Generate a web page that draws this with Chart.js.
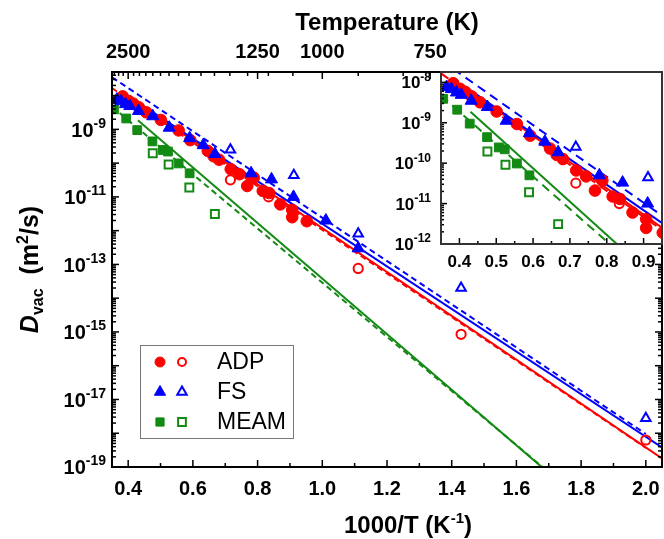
<!DOCTYPE html>
<html>
<head>
<meta charset="utf-8">
<script src="https://cdn.jsdelivr.net/npm/chart.js@4.4.1/dist/chart.umd.min.js"></script>
<style>
  body { margin: 0; background: #fff; overflow: hidden; }
  #wrap { position: relative; width: 664px; height: 539px; }
  #main { position: absolute; left: 0; top: 0; }
  #inset { position: absolute; left: 380px; top: 60px; }
</style>
</head>
<body>
<div id="wrap">
  <canvas id="main" width="664" height="539"></canvas>
  <canvas id="inset" width="284" height="220"></canvas>
</div>
<script>
// ===== Data (x = 1000/T, y = D_vac in m^2/s) =====
const seriesNames = ["ADP", "FS", "MEAM"];

const adpX = [0.383, 0.402, 0.416, 0.433, 0.456, 0.501, 0.556, 0.592, 0.646, 0.664, 0.681, 0.717, 0.744, 0.768, 0.788, 0.816, 0.836, 0.870, 0.907, 0.907, 0.952];
const adpY = [9.5e-9, 6.9e-9, 5.8e-9, 4.5e-9, 3.2e-9, 1.9e-9, 9.3e-10, 4.8e-10, 2.3e-10, 1.6e-10, 1.26e-10, 6.6e-11, 4.7e-11, 2.1e-11, 3.7e-11, 1.5e-11, 1.3e-11, 6.0e-12, 4.1e-12, 2.5e-12, 1.9e-12];
const adpOpenX = [0.716, 0.834, 1.111, 1.429, 2.0];
const adpOpenY = [3.2e-11, 1.0e-11, 7.6e-14, 8.5e-16, 6.3e-19];

const fsX = [0.365, 0.378, 0.392, 0.405, 0.432, 0.476, 0.527, 0.590, 0.632, 0.668, 0.780, 0.843, 0.911, 1.011, 1.111];
const fsY = [7.6e-9, 6.8e-9, 5.6e-9, 4.9e-9, 3.5e-9, 2.45e-9, 1.12e-9, 5.5e-10, 3.4e-10, 1.86e-10, 5.0e-11, 3.3e-11, 1.0e-11, 2.0e-12, 3.0e-13];
const fsOpenX = [0.716, 0.912, 1.111, 1.429, 2.0];
const fsOpenY = [2.5e-10, 4.4e-11, 8.1e-13, 2.0e-14, 2.8e-18];

const meamX = [0.356, 0.394, 0.428, 0.475, 0.507, 0.523, 0.556, 0.590];
const meamY = [3.9e-9, 2.1e-9, 9.5e-10, 4.4e-10, 2.45e-10, 2.2e-10, 9.8e-11, 5.0e-11];
const meamOpenX = [0.476, 0.525, 0.589, 0.668];
const meamOpenY = [1.95e-10, 9.1e-11, 1.9e-11, 3.1e-12];

// fitted Arrhenius lines (solid and dashed), end points
const adpFitX = [0.43, 2.05];   const adpFitY = [6.0e-9, 1.8e-19];
const adpFit2X = [0.35, 2.0];   const adpFit2Y = [1.66e-8, 3.7e-19];
const fsFitX = [0.43, 2.05];    const fsFitY = [6.3e-9, 3.8e-19];
const fsFit2X = [0.35, 2.0];    const fsFit2Y = [3.5e-8, 9.5e-19];
const meamFitX = [0.43, 1.7];   const meamFitY = [1.86e-9, 6.6e-20];
const meamFit2X = [0.35, 1.7];  const meamFit2Y = [4.7e-9, 7.0e-20];

// ===== Ticks =====
const xMajor = [0.4, 0.6, 0.8, 1.0, 1.2, 1.4, 1.6, 1.8, 2.0];
const xMinor = [0.5, 0.7, 0.9, 1.1, 1.3, 1.5, 1.7, 1.9];
const yLabelExp = [-19, -17, -15, -13, -11, -9];
const topMajorT = [2500, 1250, 1000, 750];
const topMinorT = [2800, 2700, 2600, 2400, 2300, 2200, 2100, 2000, 1900, 1800, 1700, 1600, 1500, 1400, 1300, 1200, 1100, 900, 800];
const insetXMajor = [0.4, 0.5, 0.6, 0.7, 0.8, 0.9];
const insetXMinor = [0.45, 0.55, 0.65, 0.75, 0.85];
const insetYLabelExp = [-12, -11, -10, -9, -8];

const RED = "#ff0000", BLUE = "#0000ff", GREEN = "#138a13";
const FONT = "'Liberation Sans', Arial, sans-serif";

// ===== Helpers =====
function pts(xs, ys) { return xs.map((x, i) => ({ x: x, y: ys[i] })); }

function pointSet(xs, ys, color, style, r, filled) {
  return {
    data: pts(xs, ys), showLine: false,
    pointStyle: style, pointRadius: r,
    pointBackgroundColor: filled ? color : "rgba(0,0,0,0)",
    pointBorderColor: color, pointBorderWidth: filled ? 1 : 2
  };
}

function lineSet(xs, ys, color, dash) {
  return {
    data: pts(xs, ys), showLine: true, borderColor: color, borderWidth: 2,
    borderDash: dash, pointRadius: 0, fill: false
  };
}

function makeSets(dash) {
  return [
    pointSet(fsX, fsY, BLUE, "triangle", 7, true),
    pointSet(fsOpenX, fsOpenY, BLUE, "triangle", 5.5, false),
    pointSet(adpX, adpY, RED, "circle", 5.8, true),
    pointSet(adpOpenX, adpOpenY, RED, "circle", 4.6, false),
    pointSet(meamX, meamY, GREEN, "rect", 6.2, true),
    pointSet(meamOpenX, meamOpenY, GREEN, "rect", 5.6, false),
    lineSet(fsFitX, fsFitY, BLUE, []),
    lineSet(fsFit2X, fsFit2Y, BLUE, dash),
    lineSet(adpFitX, adpFitY, RED, []),
    lineSet(adpFit2X, adpFit2Y, RED, dash),
    lineSet(meamFitX, meamFitY, GREEN, []),
    lineSet(meamFit2X, meamFit2Y, GREEN, dash)
  ];
}

function seg(ctx, x1, y1, x2, y2) {
  ctx.beginPath(); ctx.moveTo(x1, y1); ctx.lineTo(x2, y2); ctx.stroke();
}

function logTicks(scale) {
  const out = [];
  const e0 = Math.floor(Math.log10(scale.min)), e1 = Math.ceil(Math.log10(scale.max));
  for (let e = e0; e <= e1; e++) {
    for (let m = 1; m <= 9; m++) {
      const v = m * Math.pow(10, e);
      if (v >= scale.min * 0.999 && v <= scale.max * 1.001) out.push({ v: v, major: m === 1, e: e });
    }
  }
  return out;
}

// "10" with superscript, y = middle of the base text
function powLabel(ctx, exp, x, y, size, supSize, align) {
  const base = "10", sup = String(exp);
  ctx.font = "bold " + size + "px " + FONT;
  const wb = ctx.measureText(base).width;
  ctx.font = "bold " + supSize + "px " + FONT;
  const ws = ctx.measureText(sup).width;
  const x0 = align === "right" ? x - wb - ws : x - (wb + ws) / 2;
  const baseline = y + size * 0.36;
  ctx.textAlign = "left"; ctx.textBaseline = "alphabetic";
  ctx.font = "bold " + size + "px " + FONT;
  ctx.fillText(base, x0, baseline);
  ctx.font = "bold " + supSize + "px " + FONT;
  ctx.fillText(sup, x0 + wb, baseline - size * 0.45);
}

// pieces of mixed text on one baseline, centered at cx
function richText(ctx, pieces, cx, baseline) {
  let w = 0;
  pieces.forEach(p => { ctx.font = p.f; p.w = ctx.measureText(p.t).width; w += p.w; });
  let x = cx - w / 2;
  ctx.textAlign = "left"; ctx.textBaseline = "alphabetic";
  pieces.forEach(p => { ctx.font = p.f; ctx.fillText(p.t, x, baseline + (p.dy || 0)); x += p.w; });
}

// ===== Main chart decorations =====
const mainDecor = {
  id: "mainDecor",
  afterDatasetsDraw(chart) {
    const ctx = chart.ctx, a = chart.chartArea;
    const xs = chart.scales.x, ys = chart.scales.y;
    ctx.save();
    ctx.strokeStyle = "#000"; ctx.fillStyle = "#000";

    // bottom axis
    ctx.lineWidth = 1.5;
    xMinor.forEach(v => { const p = xs.getPixelForValue(v); seg(ctx, p, a.bottom, p, a.bottom - 4); });
    ctx.font = "bold 20px " + FONT; ctx.textAlign = "center"; ctx.textBaseline = "middle";
    xMajor.forEach(v => {
      const p = xs.getPixelForValue(v);
      seg(ctx, p, a.bottom, p, a.bottom - 7);
      ctx.fillText(v.toFixed(1), p, 489);
    });

    // top axis (temperature)
    topMinorT.forEach(T => { const p = xs.getPixelForValue(1000 / T); seg(ctx, p, a.top, p, a.top + 4); });
    ctx.font = "bold 20px " + FONT; ctx.textAlign = "center"; ctx.textBaseline = "middle";
    topMajorT.forEach(T => {
      const p = xs.getPixelForValue(1000 / T);
      seg(ctx, p, a.top, p, a.top + 7);
      ctx.fillText(String(T), p, 52);
    });

    // left & right log axis
    logTicks(ys).forEach(t => {
      const p = ys.getPixelForValue(t.v);
      const len = t.major ? 7 : 4;
      seg(ctx, a.left, p, a.left + len, p);
      seg(ctx, a.right, p, a.right - len, p);
    });
    yLabelExp.forEach(e => powLabel(ctx, e, 106, ys.getPixelForValue(Math.pow(10, e)), 20, 14, "right"));

    // frame
    ctx.lineWidth = 2;
    ctx.strokeRect(a.left, a.top, a.right - a.left, a.bottom - a.top);

    // axis titles
    ctx.font = "bold 24px " + FONT; ctx.textAlign = "center"; ctx.textBaseline = "middle";
    ctx.fillText("Temperature (K)", (a.left + a.right) / 2, 23);
    richText(ctx, [
      { t: "1000/T (K", f: "bold 24px " + FONT },
      { t: "-1", f: "bold 15px " + FONT, dy: -10 },
      { t: ")", f: "bold 24px " + FONT }
    ], 408, 533);

    ctx.save();
    ctx.translate(38, (a.top + a.bottom) / 2);
    ctx.rotate(-Math.PI / 2);
    richText(ctx, [
      { t: "D", f: "italic bold 25px " + FONT },
      { t: "vac", f: "bold 16px " + FONT, dy: 5 },
      { t: "  (m", f: "bold 25px " + FONT },
      { t: "2", f: "bold 16px " + FONT, dy: -10 },
      { t: "/s)", f: "bold 25px " + FONT }
    ], 0, 0);
    ctx.restore();

    // legend
    ctx.strokeStyle = "#777"; ctx.lineWidth = 1;
    ctx.strokeRect(140.5, 345.5, 153, 93);
    const rows = [
      { name: seriesNames[0], c: RED, s: "circle", r1: 5, r2: 4 },
      { name: seriesNames[1], c: BLUE, s: "triangle", r1: 6.5, r2: 5.5 },
      { name: seriesNames[2], c: GREEN, s: "rect", r1: 5.8, r2: 5.5 }
    ];
    rows.forEach((row, i) => {
      const y = 362 + i * 30;
      ctx.fillStyle = row.c; ctx.strokeStyle = row.c;
      ctx.lineWidth = 1;
      Chart.helpers.drawPoint(ctx, { pointStyle: row.s, radius: row.r1, borderWidth: 1, rotation: 0 }, 160, y);
      ctx.fillStyle = "rgba(0,0,0,0)"; ctx.lineWidth = 2;
      Chart.helpers.drawPoint(ctx, { pointStyle: row.s, radius: row.r2, borderWidth: 2, rotation: 0 }, 182, y);
      ctx.fillStyle = "#000";
      ctx.font = "23px " + FONT; ctx.textAlign = "left"; ctx.textBaseline = "middle";
      ctx.fillText(row.name, 217, y + 1);
    });
    ctx.restore();
  }
};

// ===== Inset decorations =====
const insetDecor = {
  id: "insetDecor",
  beforeDatasetsDraw(chart) {
    const a = chart.chartArea;
    chart.ctx.save();
    chart.ctx.fillStyle = "#fff";
    chart.ctx.fillRect(a.left, a.top, a.right - a.left, a.bottom - a.top);
    chart.ctx.restore();
  },
  afterDatasetsDraw(chart) {
    const ctx = chart.ctx, a = chart.chartArea;
    const xs = chart.scales.x, ys = chart.scales.y;
    ctx.save();
    ctx.strokeStyle = "#000"; ctx.fillStyle = "#000"; ctx.lineWidth = 1.5;
    insetXMinor.forEach(v => { const p = xs.getPixelForValue(v); seg(ctx, p, a.bottom, p, a.bottom - 3); });
    ctx.font = "bold 17px " + FONT; ctx.textAlign = "center"; ctx.textBaseline = "middle";
    insetXMajor.forEach(v => {
      const p = xs.getPixelForValue(v);
      seg(ctx, p, a.bottom, p, a.bottom - 6);
      ctx.fillText(v.toFixed(1), p, 202);
    });
    logTicks(ys).forEach(t => {
      const p = ys.getPixelForValue(t.v);
      seg(ctx, a.left, p, a.left + (t.major ? 6 : 3), p);
    });
    insetYLabelExp.forEach(e => powLabel(ctx, e, 51, ys.getPixelForValue(Math.pow(10, e)), 17, 12, "right"));
    ctx.strokeStyle = "#333"; ctx.lineWidth = 2;
    ctx.strokeRect(a.left, a.top, a.right - a.left, a.bottom - a.top);
    ctx.restore();
  }
};

const commonOpts = {
  responsive: false,
  animation: false,
  events: [],
  plugins: { legend: { display: false }, tooltip: { enabled: false } }
};

new Chart(document.getElementById("main"), {
  type: "scatter",
  data: { datasets: makeSets([6, 4]) },
  options: Object.assign({}, commonOpts, {
    layout: { autoPadding: false, padding: { left: 112, right: 2, top: 72, bottom: 72 } },
    scales: {
      x: { type: "linear", min: 0.35, max: 2.05, display: false },
      y: { type: "logarithmic", min: 1e-19, max: 5e-8, display: false }
    }
  }),
  plugins: [mainDecor]
});

new Chart(document.getElementById("inset"), {
  type: "scatter",
  data: { datasets: makeSets([9, 6]) },
  options: Object.assign({}, commonOpts, {
    layout: { autoPadding: false, padding: { left: 61, right: 2, top: 12, bottom: 36 } },
    scales: {
      x: { type: "linear", min: 0.35, max: 0.95, display: false },
      y: { type: "logarithmic", min: 1e-12, max: 1.8e-8, display: false }
    }
  }),
  plugins: [insetDecor]
});
</script>
</body>
</html>
